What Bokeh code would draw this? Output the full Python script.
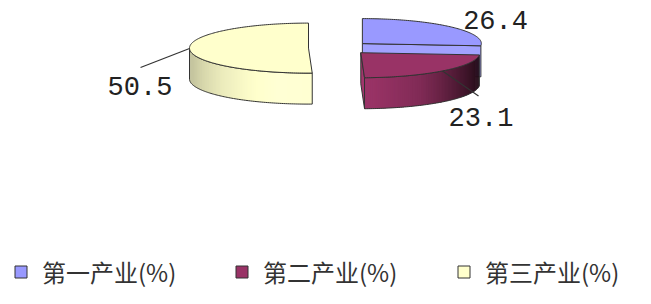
import numpy as np
from bokeh.plotting import figure
from bokeh.models import Range1d, Legend, LegendItem
from bokeh.core.properties import value
from bokeh.embed import file_html
from bokeh.resources import INLINE

# ---- data ----
categories = ["第一产业(%)", "第二产业(%)", "第三产业(%)"]
shares = [26.4, 23.1, 50.5]
label_texts = ["26.4", "23.1", "50.5"]
top_colors = ["#9999ff", "#993366", "#ffffcc"]

# ---- layout / style ----
W, H = 635, 288
CX, CY = 339.0, 47.5        # pie centre (pixels)
A, B = 119.0, 25.0          # ellipse radii of the tilted pie
DEPTH = 31.0
EXPLODE = 31.0
EDGE = "#333333"
legend_x = [13, 234, 456]
legend_y = -1
# label offsets (dx, dy) from the slice's outer mid point, and leader end offsets
label_off = [(13, -7), (6, 46), (-82, 38)]
leader_off = [None, (36, 25), (-49, 19)]

p = figure(width=W, height=H, output_backend="svg", toolbar_location=None,
           x_range=Range1d(0, W), y_range=Range1d(H, 0),
           x_axis_location=None, y_axis_location=None, min_border=0)
p.grid.visible = False
p.outline_line_color = None
p.background_fill_color = "white"
p.border_fill_color = "white"


def shade(hexc, f):
    h = hexc.lstrip("#")
    rgb = [int(h[i:i + 2], 16) for i in (0, 2, 4)]
    return "#%02x%02x%02x" % tuple(int(max(0, min(255, round(c * f)))) for c in rgb)


knot_t = [90, 95, 105, 123, 150, 180, 195, 225, 250, 270]
knot_f = [0.18, 0.2, 0.27, 0.47, 0.84, 1.03, 1.04, 0.93, 0.8, 0.72]


def light(theta_deg):
    return float(np.interp(theta_deg, knot_t, knot_f))


total = float(sum(shares))
bounds = np.concatenate([[0.0], np.cumsum(shares)]) / total * 360.0


def pt(c, th):
    r = np.radians(th)
    return c[0] + A * np.sin(r), c[1] - B * np.cos(r)


slices = []
for i in range(len(shares)):
    s, e = bounds[i], bounds[i + 1]
    m = 0.5 * (s + e)
    mr = np.radians(m)
    c = (CX + EXPLODE * np.sin(mr), CY - EXPLODE * np.cos(mr) * B / A)
    slices.append((i, s, e, m, c))

# painter's order: back to front
order = sorted(slices, key=lambda t: t[4][1])
tops = {}
for i, s, e, m, c in order:
    col = top_colors[i]
    # radial faces
    for ang, is_start in ((s, True), (e, False)):
        sn = np.sin(np.radians(ang))
        visible = (sn < -1e-3) if is_start else (sn > 1e-3)
        if visible:
            ex, ey = pt(c, ang)
            xs = [c[0], ex, ex, c[0]]
            ys = [c[1], ey, ey + DEPTH, c[1] + DEPTH]
            p.patch(xs, ys, fill_color=shade(col, 1.06), line_color=EDGE, line_width=1)
    # curved side (front half only), drawn as overlapping shaded strips
    lo, hi = max(s, 90.0), min(e, 270.0)
    if hi - lo > 8.0:
        n = max(2, int(np.ceil(hi - lo)))
        th = np.linspace(lo, hi, n + 1)
        sx, sy, sc = [], [], []
        for k in range(n):
            t0, t1 = th[k], th[min(k + 2, n)]
            x0, y0 = pt(c, t0)
            xm, ym = pt(c, th[k + 1])
            x1, y1 = pt(c, t1)
            sx.append([x0, xm, x1, x1, xm, x0])
            sy.append([y0, ym, y1, y1 + DEPTH, ym + DEPTH, y0 + DEPTH])
            sc.append(shade(col, light(0.5 * (th[k] + th[k + 1]))))
        p.patches(sx, sy, fill_color=sc, line_color=None)
        ax, ay = pt(c, th)
        ox = list(ax) + list(ax[::-1]) + [ax[0]]
        oy = list(ay) + list((ay + DEPTH)[::-1]) + [ay[0]]
        p.line(ox, oy, line_color=EDGE, line_width=1)
    # top face
    th = np.linspace(s, e, max(3, int((e - s) / 1.0)))
    ax, ay = pt(c, th)
    tops[i] = p.patch([c[0]] + list(ax), [c[1]] + list(ay),
                      fill_color=col, line_color=EDGE, line_width=1)

# labels with leader lines
for i, s, e, m, c in slices:
    mx, my = pt(c, m)
    if leader_off[i] is not None:
        p.line([mx, mx + leader_off[i][0]], [my, my + leader_off[i][1]],
               line_color="#333333", line_width=1.2)
    p.text([mx + label_off[i][0]], [my + label_off[i][1]], text=[label_texts[i]],
           text_font=value("Liberation Mono"), text_font_size="27px",
           text_color="#222222", text_align="left", text_baseline="middle")

# legends
for i in range(len(categories)):
    lg = Legend(items=[LegendItem(label=categories[i], renderers=[tops[i]])],
                location=(legend_x[i], legend_y), orientation="horizontal",
                glyph_width=15, glyph_height=15, label_standoff=14,
                padding=0, margin=0, border_line_color=None,
                background_fill_alpha=0,
                label_text_font="Noto Sans CJK SC", label_text_font_size="24px",
                label_text_color="#333333")
    p.add_layout(lg)

open("out.html", "w").write(file_html(p, INLINE))
